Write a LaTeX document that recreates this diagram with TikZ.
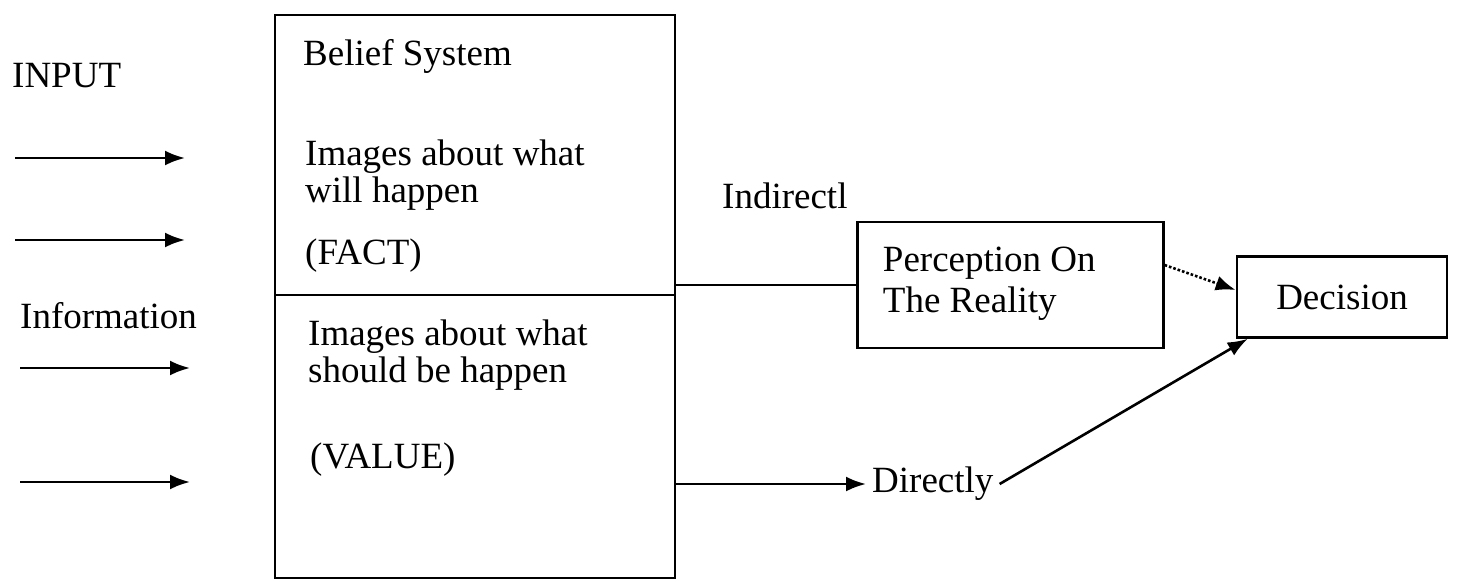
\documentclass[tikz,border=0pt]{standalone}
\usepackage{fontspec}
\setmainfont{Liberation Serif}
\usetikzlibrary{arrows.meta}
\begin{document}
\begin{tikzpicture}[x=1pt,y=-1pt,
  every node/.style={font=\fontsize{37}{37}\selectfont, inner sep=0pt},
  txt/.style={anchor=west, align=left},
  boxn/.style={draw, line width=2.6pt},
  conn/.style={line width=2.6pt},
  arr/.style={conn, -{Latex[length=20pt,width=15pt]}}]
\useasboundingbox (0,0) rectangle (1468,584);
% big belief box
\node[boxn, minimum width=400pt, minimum height=563pt] (belief) at (475,296.5) {};
\coordinate (divL) at (275,295);
\coordinate (divR) at (675,295);
\draw[conn] (divL) -- (divR);
\node[txt] (bs) at (303,56) {Belief System};
\node[txt] (f1) at (305,175) {Images about what\\will happen};
\node[txt] (fact) at (305,256) {(FACT)};
\node[txt] (v1) at (308,355) {Images about what\\should be happen};
\node[txt] (value) at (310,460) {(VALUE)};
% left inputs
\node[txt] (input) at (12,76) {INPUT};
\node[txt] (info) at (20,316) {Information};
\coordinate (i1s) at (15,158); \coordinate (i1e) at (185,158);
\coordinate (i2s) at (15,240); \coordinate (i2e) at (185,240);
\coordinate (i3s) at (20,368); \coordinate (i3e) at (190,368);
\coordinate (i4s) at (20,482); \coordinate (i4e) at (190,482);
\draw[arr] (i1s) -- (i1e);
\draw[arr] (i2s) -- (i2e);
\draw[arr] (i3s) -- (i3e);
\draw[arr] (i4s) -- (i4e);
% right side
\node[txt] (ind) at (722,196) {Indirectl};
\node[boxn, minimum width=306pt, minimum height=126pt, align=left, anchor=west] (perc) at (856,285)
  {\hspace*{-2pt}\begin{tabular}{@{}l@{}}Perception On\\[4pt]The Reality\end{tabular}\hspace*{40pt}};
\node[boxn, minimum width=210pt, minimum height=81pt] (dec) at (1342,297) {Decision};
\node[txt, inner sep=6pt] (dir) at (866,484) {Directly};
\draw[conn] (perc.west) -- (perc.west -| belief.east);
\draw[arr] (belief.east |- dir.west) -- (dir.west);
\draw[line width=2.6pt, dotted, -{Latex[length=20pt,width=15pt]}] ([yshift=20pt]perc.east) -- ([yshift=7pt]dec.west);
\draw[arr] (dir.east) -- ([xshift=12pt]dec.south west);
\end{tikzpicture}
\end{document}
